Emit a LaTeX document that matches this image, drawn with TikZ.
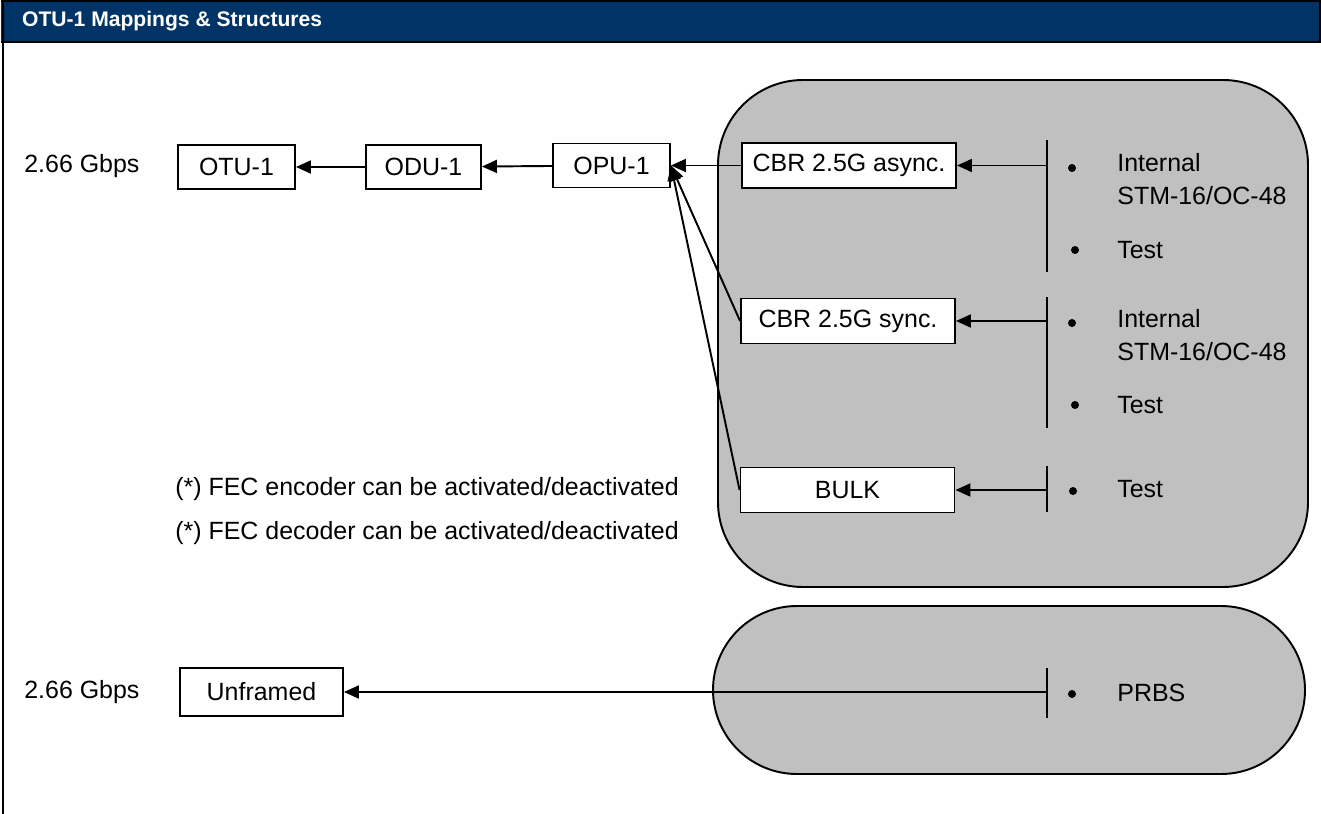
\documentclass[tikz,border=0pt]{standalone}
\usepackage{fontspec}
\setmainfont{Liberation Sans}
\usetikzlibrary{positioning,arrows.meta,calc}
\definecolor{Navy}{RGB}{0,51,102}
\definecolor{Region}{RGB}{192,192,192}

\begin{document}
\begin{tikzpicture}[x=0.02cm,y=-0.02cm,
    block/.style={rectangle,draw=black,fill=white,line width=1.1pt,minimum width=2.34cm,minimum height=0.88cm,font=\fontsize{14.2}{17}\selectfont,inner sep=0pt},
    cbr/.style={block,minimum width=4.28cm,minimum height=0.9cm},
    label/.style={anchor=west,font=\fontsize{14.2}{18.7}\selectfont,inner sep=0pt,align=left},
    bullet/.style={circle,fill=black,inner sep=0pt,minimum size=0.16cm},
    bar/.style={line width=1.1pt},
    arrow/.style={-{Triangle[length=3mm,width=2.6mm]},line width=1.1pt}
]
\useasboundingbox (0,0) rectangle (1321,814);

% Header
\fill[Navy] (1,1) rectangle (1320,42);
\draw[line width=1pt] (1,1) -- (1320,1) -- (1320,42) -- (1,42);
\draw[line width=1.2pt] (3,1) -- (3,814);
\node[anchor=west,text=white,font=\fontsize{12}{14}\selectfont\bfseries] (title) at (16,21) {OTU-1 Mappings \& Structures};

% Grey regions
\draw[fill=Region,line width=1.1pt,rounded corners=1.7cm] (718,80) rectangle (1308,587);
\draw[fill=Region,line width=1.1pt,rounded corners=1.68cm] (713,606) rectangle (1305,774);

% Rate labels
\node[label] (rate-top) at (24,166) {2.66 Gbps};
\node[label] (rate-bot) at (24,692) {2.66 Gbps};

% Framed chain
\node[block] (otu1) at (236.5,167) {OTU-1};
\node[block,minimum width=2.3cm] (odu1) at (423.5,167) {ODU-1};
\node[block] (opu1) at (611.5,165.5) {OPU-1};
\node[cbr] (cbr-async) at (849,165.5) {CBR 2.5G async.};
\node[cbr] (cbr-sync) at (848,321) {CBR 2.5G sync.};
\node[cbr] (bulk) at (847.5,490) {BULK};

\draw[arrow] (odu1) -- (otu1);
\draw[arrow] (opu1) -- (odu1);
\draw[arrow] (cbr-async) -- (opu1);
\draw[arrow] (cbr-sync.west) -- (opu1.east);
\draw[arrow] (bulk.west) -- (opu1.east);

% Unframed
\node[block,minimum width=3.26cm,minimum height=0.96cm] (unframed) at (261.5,692) {Unframed};

% Source bars
\draw[bar] (1047,140) coordinate (bar1-top) -- (1047,272) coordinate (bar1-bot);
\draw[bar] (1047,297) coordinate (bar2-top) -- (1047,428) coordinate (bar2-bot);
\draw[bar] (1047,466) coordinate (bar3-top) -- (1047,512) coordinate (bar3-bot);
\draw[bar] (1047,668) coordinate (bar4-top) -- (1047,718) coordinate (bar4-bot);

\coordinate (src-async) at (1047,165.5);
\coordinate (src-sync) at (1047,321);
\coordinate (src-bulk) at (1047,490);
\coordinate (src-prbs) at (1047,692);
\draw[arrow] (src-async) -- (cbr-async);
\draw[arrow] (src-sync) -- (cbr-sync);
\draw[arrow] (src-bulk) -- (bulk);
\draw[arrow] (src-prbs) -- (unframed);

% Sources
\node[bullet] (b1) at (1072,168) {};
\node[bullet] (b2) at (1075,250) {};
\node[bullet] (b3) at (1072,323) {};
\node[bullet] (b4) at (1075,405) {};
\node[bullet] (b5) at (1073,491) {};
\node[bullet] (b6) at (1072,694) {};

\node[label,anchor=north west] (int1) at (1117,153) {Internal\\STM-16/OC-48};
\node[label] (test1) at (1117,250) {Test};
\node[label,anchor=north west] (int2) at (1117,309) {Internal\\STM-16/OC-48};
\node[label] (test2) at (1117,405) {Test};
\node[label] (test3) at (1117,489) {Test};
\node[label] (prbs) at (1117,693) {PRBS};

% Notes
\node[label] (note-enc) at (175,489) {(*) FEC encoder can be activated/deactivated};
\node[label] (note-dec) at (175,533) {(*) FEC decoder can be activated/deactivated};

\end{tikzpicture}
\end{document}
